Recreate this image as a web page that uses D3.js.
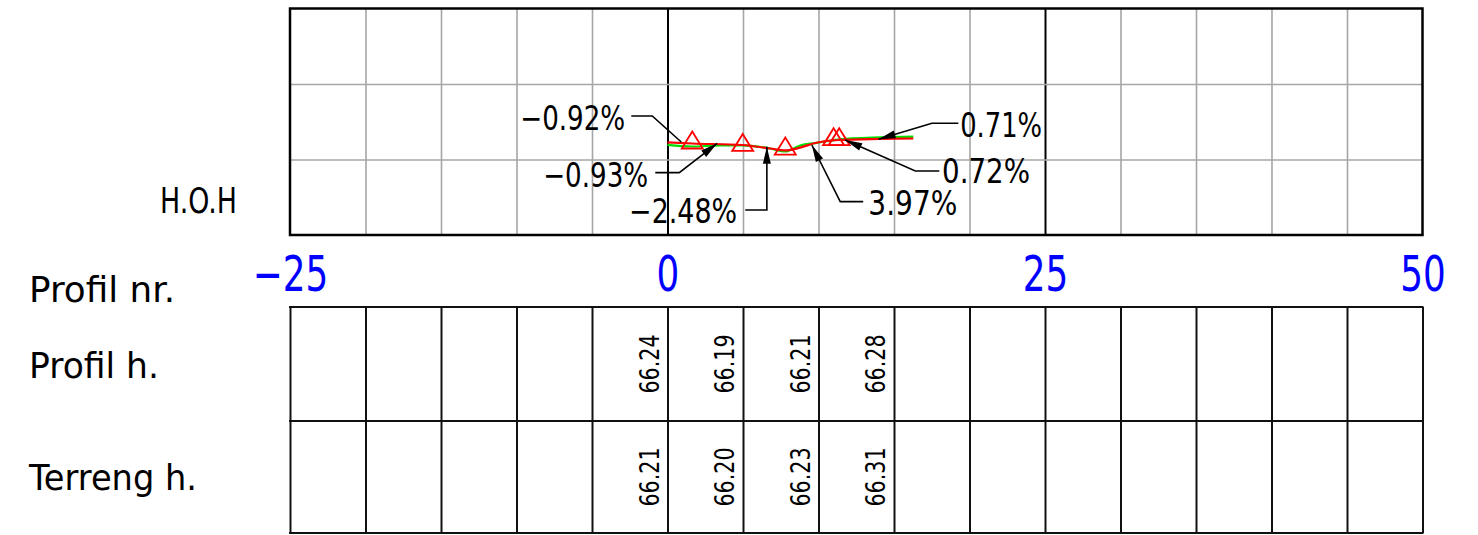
<!DOCTYPE html>
<html>
<head>
<meta charset="utf-8">
<script src="https://cdn.jsdelivr.net/npm/d3@7"></script>
<style>
body{margin:0;background:#fff;}
svg text{font-family:"DejaVu Sans",sans-serif;}
</style>
</head>
<body>
<svg id="chart" width="1478" height="535"></svg>
<script>
const width = 1478, height = 535;
const box = { left: 290, right: 1422.5, top: 8.5, bottom: 235 };
const table = { top: 307, mid: 421, bottom: 533 };

// stations / levels
const axisTicks = [-25, 0, 25, 50];
const gridStations = d3.range(-25, 51, 5);
const gridLevels = [65, 70];

// profile (red) and terrain (green), station in m, elevation in m
const profileSt = [0, 1.64, 4.95, 6.80, 7.80, 8.79, 9.78, 11.31, 14.09, 16.28];
const profileEl = [66.13, 66.06, 65.96, 65.73, 65.60, 65.79, 66.09, 66.29, 66.36, 66.39];
const terrainSt = [0, 1.64, 3.49, 4.95, 6.80, 7.80, 8.79, 9.78, 11.31, 14.09, 16.28];
const terrainEl = [65.97, 65.86, 65.93, 65.93, 65.73, 65.53, 65.93, 66.09, 66.32, 66.46, 66.51];

// survey points (triangles)
const pointSt = [1.64, 4.98, 7.80, 11.00, 11.37];
const pointEl = [66.29, 66.13, 65.89, 66.51, 66.51];

// table rows
const tableStations = [0, 5, 10, 15];
const profilH = ["66.24", "66.19", "66.21", "66.28"];
const terrengH = ["66.21", "66.20", "66.23", "66.31"];

const slopeText = ["\u22120.92%", "\u22120.93%", "\u22122.48%", "3.97%", "0.72%", "0.71%"];

// where the slope labels sit (data units)
const slopeLayout = [
  { at: [-2.80, 66.95], anchor: "end", len: 105, leader: [[-2.40, 67.88], [-1.01, 67.88], [0.91, 66.16]], arrow: false },
  { at: [-1.28, 63.20], anchor: "end", len: 105, leader: [[-0.81, 64.13], [0.78, 64.13], [3.29, 66.07]], arrow: true },
  { at: [4.61, 60.79], anchor: "end", len: 108, leader: [[5.15, 61.66], [6.58, 61.66], [6.58, 65.85]], arrow: true },
  { at: [13.30, 61.32], anchor: "start", len: 89, leader: [[12.96, 62.21], [11.44, 62.21], [9.56, 65.96]], arrow: true },
  { at: [18.18, 63.42], anchor: "start", len: 88, leader: [[18.00, 64.24], [16.41, 64.24], [11.77, 66.29]], arrow: true },
  { at: [19.38, 66.51], anchor: "start", len: 82, leader: [[19.26, 67.40], [17.51, 67.40], [13.98, 66.34]], arrow: true }
];

const svg = d3.select("#chart");

const x = d3.scaleLinear().domain([-25, 50]).range([box.left, box.right]);
const y = d3.scaleLinear().domain([60, 75]).range([box.bottom, box.top]);

// ---- top grid ----
const gx = svg.append("g")
  .attr("transform", `translate(0,${box.bottom})`)
  .call(d3.axisBottom(x).tickValues(gridStations.slice(1, -1)).tickSize(-(box.bottom - box.top)).tickFormat(""));
gx.select(".domain").remove();
gx.selectAll("line")
  .attr("stroke", d => (d === 0 || d === 25) ? "#000" : "#a6a6a6")
  .attr("stroke-width", d => (d === 0 || d === 25) ? 2 : 1.6);

const gy = svg.append("g")
  .attr("transform", `translate(${box.left},0)`)
  .call(d3.axisLeft(y).tickValues(gridLevels).tickSize(-(box.right - box.left)).tickFormat(""));
gy.select(".domain").remove();
gy.selectAll("line").attr("stroke", "#a6a6a6").attr("stroke-width", 1.6);

svg.append("rect")
  .attr("x", box.left).attr("y", box.top)
  .attr("width", box.right - box.left).attr("height", box.bottom - box.top)
  .attr("fill", "none").attr("stroke", "#000").attr("stroke-width", 2.5);

// ---- lines ----
const line = d3.line().x(d => x(d[0])).y(d => y(d[1])).curve(d3.curveMonotoneX);

svg.append("path")
  .datum(d3.zip(terrainSt, terrainEl))
  .attr("d", line)
  .attr("fill", "none").attr("stroke", "#00e000").attr("stroke-width", 2.2);

svg.append("path")
  .datum(d3.zip(profileSt, profileEl))
  .attr("d", line)
  .attr("fill", "none").attr("stroke", "#ff0000").attr("stroke-width", 2.2);

svg.selectAll("path.pt")
  .data(d3.zip(pointSt, pointEl))
  .join("path")
  .attr("class", "pt")
  .attr("transform", d => `translate(${x(d[0])},${y(d[1])})`)
  .attr("d", "M0,-8.5L10.5,8.5L-10.5,8.5Z")
  .attr("fill", "none").attr("stroke", "#ff0000").attr("stroke-width", 1.8);

// ---- slope labels with leaders ----
slopeLayout.forEach((s, i) => {
  const pts = s.leader.map(p => [x(p[0]), y(p[1])]);
  svg.append("path")
    .attr("d", d3.line()(pts))
    .attr("fill", "none").attr("stroke", "#000").attr("stroke-width", 1.6);
  if (s.arrow) {
    const tip = pts[pts.length - 1], prev = pts[pts.length - 2];
    const dx = tip[0] - prev[0], dy = tip[1] - prev[1];
    const L = Math.hypot(dx, dy), ux = dx / L, uy = dy / L;
    const al = 17, aw = 4;
    const bx = tip[0] - ux * al, by = tip[1] - uy * al;
    svg.append("path")
      .attr("d", `M${tip[0]},${tip[1]}L${bx - uy * aw},${by + ux * aw}L${bx + uy * aw},${by - ux * aw}Z`)
      .attr("fill", "#000");
  }
  svg.append("text")
    .attr("x", x(s.at[0])).attr("y", y(s.at[1]))
    .attr("text-anchor", s.anchor)
    .attr("font-size", 34)
    .attr("textLength", s.len).attr("lengthAdjust", "spacingAndGlyphs")
    .attr("fill", "#000")
    .text(slopeText[i]);
});

// ---- blue station labels ----
const gt = svg.append("g")
  .attr("transform", "translate(0,291)")
  .call(d3.axisBottom(x).tickValues(axisTicks).tickSize(0));
gt.select(".domain").remove();
gt.selectAll("text")
  .attr("y", 0).attr("dy", null)
  .attr("font-size", 49)
  .attr("font-family", "DejaVu Sans")
  .attr("fill", "#0000ff")
  .each(function () {
    const w = this.getComputedTextLength();
    d3.select(this).attr("textLength", w * 0.73).attr("lengthAdjust", "spacingAndGlyphs");
  });

// ---- table ----
const gtab = svg.append("g")
  .attr("transform", `translate(0,${table.bottom})`)
  .call(d3.axisBottom(x).tickValues(gridStations).tickSize(-(table.bottom - table.top)).tickFormat(""));
gtab.select(".domain").remove();
gtab.selectAll("line").attr("stroke", "#111").attr("stroke-width", 2);

[table.top, table.mid, table.bottom].forEach(yy => {
  svg.append("line")
    .attr("x1", box.left - 1).attr("x2", box.right + 1)
    .attr("y1", yy).attr("y2", yy)
    .attr("stroke", "#111").attr("stroke-width", 2);
});

const rows = [
  { vals: profilH, cy: (table.top + table.mid) / 2 },
  { vals: terrengH, cy: (table.mid + table.bottom) / 2 }
];
rows.forEach(r => {
  svg.selectAll(null)
    .data(tableStations)
    .join("text")
    .attr("transform", d => `translate(${x(d) - 9},${r.cy}) rotate(-90)`)
    .attr("text-anchor", "middle")
    .attr("font-size", 26)
    .attr("textLength", 59).attr("lengthAdjust", "spacingAndGlyphs")
    .attr("fill", "#000")
    .text((d, i) => r.vals[i]);
});

// ---- row labels ----
const labelLayout = [
  { x: 237, y: 213, anchor: "end", len: 77 },
  { x: 29, y: 302, anchor: "start", len: 146 },
  { x: 29, y: 378, anchor: "start", len: 130 },
  { x: 29, y: 490, anchor: "start", len: 168 }
];
const rowLabels = ["H.O.H", "Profil nr.", "Profil h.", "Terreng h."];
rowLabels.forEach((t, i) => {
  const l = labelLayout[i];
  svg.append("text")
    .attr("x", l.x).attr("y", l.y)
    .attr("text-anchor", l.anchor)
    .attr("font-size", 35)
    .attr("textLength", l.len).attr("lengthAdjust", "spacingAndGlyphs")
    .attr("fill", "#000")
    .text(t);
});
</script>
</body>
</html>
